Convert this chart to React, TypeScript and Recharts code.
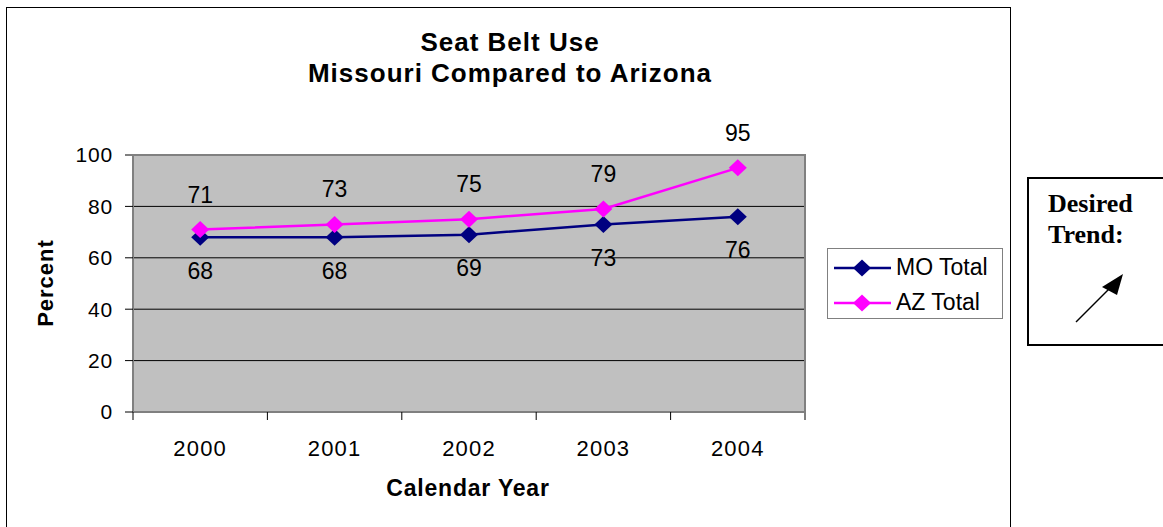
import React from 'react';
import { LineChart, Line, XAxis, YAxis, CartesianGrid, LabelList, Legend } from 'recharts';

const years = ['2000', '2001', '2002', '2003', '2004'];
const moTotal = [68, 68, 69, 73, 76];
const azTotal = [71, 73, 75, 79, 95];
const yTicks = [0, 20, 40, 60, 80, 100];

const MO_COLOR = '#000080';
const AZ_COLOR = '#ff00ff';
const FONT = "Arial, 'Liberation Sans', sans-serif";
const SERIF = "'Times New Roman', 'Liberation Serif', serif";

const data = years.map((year, i) => ({ year, mo: moTotal[i], az: azTotal[i] }));

const series = [
  { key: 'mo', name: 'MO Total', color: MO_COLOR },
  { key: 'az', name: 'AZ Total', color: AZ_COLOR },
];

const X_TICK_SIZE = 6;
const X_TICK_MARGIN = 22;

// diamond marker like the old excel charts
const diamond = (color: string) => (props: any) => {
  const { cx, cy } = props;
  if (cx == null || cy == null) return <g key={props.key} />;
  return (
    <polygon
      key={props.key}
      points={`${cx},${cy - 8.5} ${cx + 9},${cy} ${cx},${cy + 8.5} ${cx - 9},${cy}`}
      fill={color}
    />
  );
};

// year label in the middle of the band, tick marks on the band edges (excel style)
const YearTick = (props: any) => {
  const { x, y, payload, index } = props;
  const w = typeof props.width === 'number' ? props.width : 672;
  const half = w / years.length / 2;
  const axisY = y - X_TICK_SIZE - X_TICK_MARGIN;
  return (
    <g>
      <line x1={x - half} x2={x - half} y1={axisY} y2={axisY + 8} stroke="#000" />
      {index === years.length - 1 && (
        <line x1={x + half} x2={x + half} y1={axisY} y2={axisY + 8} stroke="#000" />
      )}
      <text
        x={x}
        y={y}
        dy="0.71em"
        textAnchor="middle"
        fill="#000"
        fontSize={22}
        fontFamily={FONT}
        letterSpacing={1.2}
      >
        {payload.value}
      </text>
    </g>
  );
};

const LegendBox = () => (
  <div
    style={{
      border: '1px solid #808080',
      width: 176,
      height: 71,
      boxSizing: 'border-box',
      background: '#fff',
      fontFamily: FONT,
      fontSize: 23,
      paddingTop: 1,
    }}
  >
    {series.map((s) => (
      <div key={s.key} style={{ display: 'flex', alignItems: 'center', height: 35, paddingLeft: 6 }}>
        <svg width={57} height={18} style={{ flex: 'none' }}>
          <line x1={0} y1={9} x2={57} y2={9} stroke={s.color} strokeWidth={2.5} />
          <polygon points="28,0.5 37,9 28,17.5 19,9" fill={s.color} />
        </svg>
        <span style={{ marginLeft: 5, whiteSpace: 'nowrap' }}>{s.name}</span>
      </div>
    ))}
  </div>
);

export default function App() {
  return (
    <div style={{ position: 'relative', width: 1163, height: 527, background: '#fff', overflow: 'hidden' }}>
      <style>{`body { margin: 0; }`}</style>

      {/* outer chart frame */}
      <div
        style={{
          position: 'absolute',
          left: 6,
          top: 7,
          width: 1005,
          height: 540,
          border: '1px solid #000',
          boxSizing: 'border-box',
        }}
      />

      {/* title */}
      <div
        style={{
          position: 'absolute',
          left: 0,
          width: 1020,
          top: 27,
          textAlign: 'center',
          fontFamily: FONT,
          fontWeight: 'bold',
          fontSize: 26,
          letterSpacing: 1,
          lineHeight: '31px',
        }}
      >
        Seat Belt Use
        <br />
        Missouri Compared to Arizona
      </div>

      <div style={{ position: 'absolute', left: 0, top: 0 }}>
        <LineChart
          width={1163}
          height={527}
          data={data}
          margin={{ top: 155, right: 358, bottom: 75, left: 73 }}
        >
          <CartesianGrid vertical={false} fill="#c0c0c0" stroke="#000" />
          <XAxis
            dataKey="year"
            scale="band"
            height={40}
            axisLine={{ stroke: '#808080', strokeWidth: 2 }}
            tickLine={false}
            tickSize={X_TICK_SIZE}
            tickMargin={X_TICK_MARGIN}
            tick={<YearTick />}
            interval={0}
          />
          <YAxis
            domain={[0, 100]}
            ticks={yTicks}
            width={60}
            axisLine={{ stroke: '#808080', strokeWidth: 2 }}
            tickLine={{ stroke: '#000' }}
            tickSize={8}
            tickMargin={12}
            tick={{ fill: '#000', fontSize: 21, fontFamily: FONT, letterSpacing: 0.8 }}
          />
          <Legend
            layout="vertical"
            align="center"
            verticalAlign="middle"
            content={<LegendBox />}
            wrapperStyle={{ left: 827, top: 248, width: 176 }}
          />
          <Line
            dataKey="mo"
            name="MO Total"
            stroke={MO_COLOR}
            strokeWidth={2.5}
            dot={diamond(MO_COLOR)}
            isAnimationActive={false}
          >
            <LabelList dataKey="mo" position="bottom" offset={25} fill="#000" fontSize={23} fontFamily={FONT} />
          </Line>
          <Line
            dataKey="az"
            name="AZ Total"
            stroke={AZ_COLOR}
            strokeWidth={2.5}
            dot={diamond(AZ_COLOR)}
            isAnimationActive={false}
          >
            <LabelList dataKey="az" position="top" offset={27} fill="#000" fontSize={23} fontFamily={FONT} />
          </Line>
        </LineChart>
      </div>

      {/* plot area border */}
      <div
        style={{
          position: 'absolute',
          left: 132,
          top: 154,
          width: 674,
          height: 259,
          borderTop: '2px solid #808080',
          borderRight: '2px solid #808080',
          boxSizing: 'border-box',
          pointerEvents: 'none',
        }}
      />

      {/* axis titles */}
      <div
        style={{
          position: 'absolute',
          left: 46,
          top: 283,
          transform: 'translate(-50%, -50%) rotate(-90deg)',
          fontFamily: FONT,
          fontWeight: 'bold',
          fontSize: 22,
          letterSpacing: 1,
          whiteSpace: 'nowrap',
        }}
      >
        Percent
      </div>
      <div
        style={{
          position: 'absolute',
          left: 468,
          top: 488,
          transform: 'translate(-50%, -50%)',
          fontFamily: FONT,
          fontWeight: 'bold',
          fontSize: 23,
          letterSpacing: 0.8,
          whiteSpace: 'nowrap',
        }}
      >
        Calendar Year
      </div>

      {/* desired trend box */}
      <div
        style={{
          position: 'absolute',
          left: 1027,
          top: 177,
          width: 150,
          height: 169,
          border: '2px solid #000',
          boxSizing: 'border-box',
          background: '#fff',
        }}
      >
        <div
          style={{
            position: 'absolute',
            left: 19,
            top: 9,
            fontFamily: SERIF,
            fontWeight: 'bold',
            fontSize: 26,
            lineHeight: '31px',
          }}
        >
          Desired
          <br />
          Trend:
        </div>
        <svg style={{ position: 'absolute', left: -2, top: -2 }} width={150} height={169}>
          <line x1={49} y1={145} x2={86} y2={108} stroke="#000" strokeWidth={1.5} />
          <polygon points="96,97 75,110 90,118" fill="#000" />
        </svg>
      </div>
    </div>
  );
}
